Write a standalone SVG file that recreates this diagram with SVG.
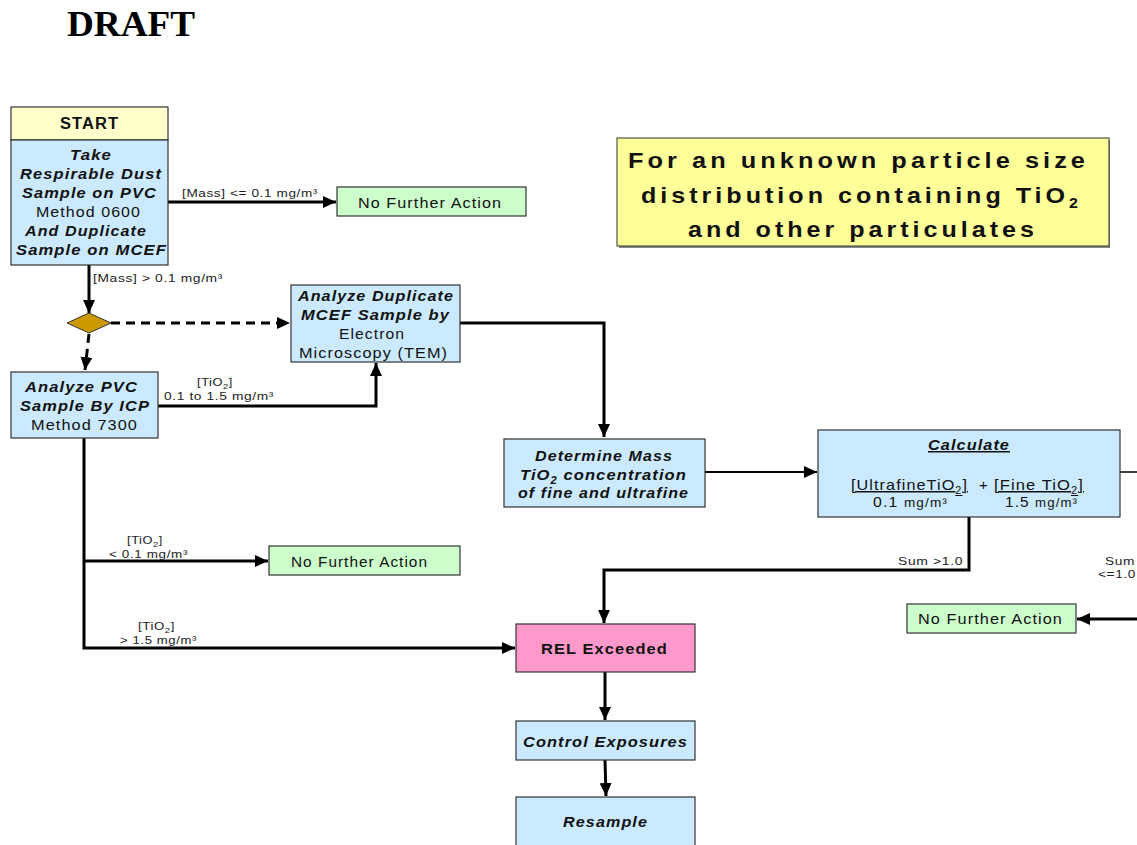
<svg xmlns="http://www.w3.org/2000/svg" width="1137" height="845" viewBox="0 0 1137 845">
<style>
.box{stroke:#333;stroke-width:1.2}
.blue{fill:#cceaff}
.green{fill:#ccffcc}
.t{font-family:"Liberation Sans",Arial,sans-serif;fill:#111;letter-spacing:1px}
.bi{font-weight:bold;font-style:italic;font-size:15px}
.r{font-size:15px}
.lbl{font-family:"Liberation Sans",Arial,sans-serif;font-size:11px;fill:#222;letter-spacing:0.5px}
.c{stroke:#000;stroke-width:3;fill:none}
.d{stroke:#000;stroke-width:3;fill:none;stroke-dasharray:9,6}
.ttl{font-family:"Liberation Sans",Arial,sans-serif;fill:#111;font-weight:bold;font-size:22px;letter-spacing:3.5px}
</style>
<defs>
<marker id="ah" markerUnits="userSpaceOnUse" markerWidth="14" markerHeight="12" refX="13" refY="6" orient="auto">
<path d="M0,0 L13,6 L0,12 z" fill="#000"/>
</marker>
</defs>
<rect width="1137" height="845" fill="#fff"/>
<text x="67" y="36" font-family="'Liberation Serif','Times New Roman',serif" font-weight="bold" font-size="36" textLength="128" lengthAdjust="spacingAndGlyphs">DRAFT</text>

<g id="connectors">
<path class="c" d="M168,202 H336" marker-end="url(#ah)"/>
<path class="c" d="M89,265 V313" marker-end="url(#ah)"/>
<path class="d" d="M111,323 H290" marker-end="url(#ah)"/>
<path class="d" d="M89,334 L85,370" marker-end="url(#ah)"/>
<path class="c" d="M158,406 H376 V363" marker-end="url(#ah)"/>
<path class="c" d="M460,323 H604 V437" marker-end="url(#ah)"/>
<path class="c" style="stroke-width:2" d="M705,472 H817" marker-end="url(#ah)"/>
<path class="c" style="stroke-width:1.5" d="M1120,472 H1137"/>
<path class="c" d="M969,517 V570 H604 V623" marker-end="url(#ah)"/>
<path class="c" d="M1137,619 H1077" marker-end="url(#ah)"/>
<path class="c" d="M84,438 V648 H515" marker-end="url(#ah)"/>
<path class="c" d="M84,561 H268" marker-end="url(#ah)"/>
<path class="c" d="M605,672 V720" marker-end="url(#ah)"/>
<path class="c" d="M605,760 L606,796" marker-end="url(#ah)"/>
<text class="lbl" x="182" y="197" textLength="136" lengthAdjust="spacingAndGlyphs">[Mass] &lt;= 0.1 mg/m³</text>
<text class="lbl" x="93" y="282" textLength="130" lengthAdjust="spacingAndGlyphs">[Mass] &gt; 0.1 mg/m³</text>
<text class="lbl" x="197" y="386" textLength="36" lengthAdjust="spacingAndGlyphs">[TiO<tspan font-size="8" dy="3">2</tspan><tspan dy="-3">]</tspan></text>
<text class="lbl" x="164" y="400" textLength="110" lengthAdjust="spacingAndGlyphs">0.1 to 1.5 mg/m³</text>
<text class="lbl" x="127" y="544" textLength="36" lengthAdjust="spacingAndGlyphs">[TiO<tspan font-size="8" dy="3">2</tspan><tspan dy="-3">]</tspan></text>
<text class="lbl" x="109" y="558" textLength="79" lengthAdjust="spacingAndGlyphs">&lt; 0.1 mg/m³</text>
<text class="lbl" x="138" y="630" textLength="37" lengthAdjust="spacingAndGlyphs">[TiO<tspan font-size="8" dy="3">2</tspan><tspan dy="-3">]</tspan></text>
<text class="lbl" x="120" y="644" textLength="77" lengthAdjust="spacingAndGlyphs">&gt; 1.5 mg/m³</text>
<text class="lbl" x="898" y="565" textLength="65" lengthAdjust="spacingAndGlyphs">Sum &gt;1.0</text>
<text class="lbl" x="1105" y="565" textLength="30" lengthAdjust="spacingAndGlyphs">Sum</text>
<text class="lbl" x="1098" y="578" textLength="38" lengthAdjust="spacingAndGlyphs">&lt;=1.0</text>
</g>

<g id="start">
<rect class="box" x="11" y="107" width="157" height="33" fill="#ffffcc"/>
<rect class="box blue" x="11" y="140" width="157" height="125"/>
<text class="t" x="60" y="129" font-weight="bold" font-size="16" textLength="59" lengthAdjust="spacingAndGlyphs">START</text>
<text class="t bi" x="70" y="160" textLength="42" lengthAdjust="spacingAndGlyphs">Take</text>
<text class="t bi" x="20" y="179" textLength="142" lengthAdjust="spacingAndGlyphs">Respirable Dust</text>
<text class="t bi" x="22" y="198" textLength="135" lengthAdjust="spacingAndGlyphs">Sample on PVC</text>
<text class="t r" x="36" y="217" textLength="105" lengthAdjust="spacingAndGlyphs">Method 0600</text>
<text class="t bi" x="25" y="236" textLength="122" lengthAdjust="spacingAndGlyphs">And Duplicate</text>
<text class="t bi" x="16" y="255" textLength="151" lengthAdjust="spacingAndGlyphs">Sample on MCEF</text>
</g>

<g id="nfa1">
<rect class="box green" x="337" y="187" width="189" height="29"/>
<text class="t r" x="358" y="208" textLength="144" lengthAdjust="spacingAndGlyphs">No Further Action</text>
</g>

<g id="decision">
<polygon points="89,313 111,323 89,333 67,323" fill="#cc9900" stroke="#333" stroke-width="1"/>
</g>

<g id="analyze-dup">
<rect class="box blue" x="291" y="285" width="169" height="77"/>
<text class="t bi" x="298" y="301" textLength="156" lengthAdjust="spacingAndGlyphs">Analyze Duplicate</text>
<text class="t bi" x="301" y="320" textLength="149" lengthAdjust="spacingAndGlyphs">MCEF Sample by</text>
<text class="t r" x="339" y="339" textLength="66" lengthAdjust="spacingAndGlyphs">Electron</text>
<text class="t r" x="299" y="358" textLength="149" lengthAdjust="spacingAndGlyphs">Microscopy (TEM)</text>
</g>

<g id="analyze-pvc">
<rect class="box blue" x="11" y="372" width="147" height="66"/>
<text class="t bi" x="25" y="392" textLength="113" lengthAdjust="spacingAndGlyphs">Analyze PVC</text>
<text class="t bi" x="20" y="411" textLength="130" lengthAdjust="spacingAndGlyphs">Sample By ICP</text>
<text class="t r" x="31" y="430" textLength="107" lengthAdjust="spacingAndGlyphs">Method 7300</text>
</g>

<g id="determine">
<rect class="box blue" x="504" y="439" width="201" height="68"/>
<text class="t bi" x="535" y="461" textLength="138" lengthAdjust="spacingAndGlyphs">Determine Mass</text>
<text class="t bi" x="520" y="480" textLength="167" lengthAdjust="spacingAndGlyphs">TiO<tspan font-size="10" dy="4">2</tspan><tspan dy="-4"> concentration</tspan></text>
<text class="t bi" x="518" y="498" textLength="171" lengthAdjust="spacingAndGlyphs">of fine and ultrafine</text>
</g>

<g id="calculate">
<rect class="box blue" x="818" y="430" width="302" height="87"/>
<text class="t bi" x="928" y="450" text-decoration="underline" textLength="82" lengthAdjust="spacingAndGlyphs">Calculate</text>
<text class="t" font-size="15" x="851" y="490" text-decoration="underline" textLength="117" lengthAdjust="spacingAndGlyphs">[UltrafineTiO<tspan font-size="10" dy="4">2</tspan><tspan dy="-4">]</tspan></text>
<text class="t" font-size="15" x="979" y="490">+</text>
<text class="t" font-size="15" x="994" y="490" text-decoration="underline" textLength="90" lengthAdjust="spacingAndGlyphs">[Fine TiO<tspan font-size="10" dy="4">2</tspan><tspan dy="-4">]</tspan></text>
<text class="t" font-size="14" x="873" y="507" textLength="75" lengthAdjust="spacingAndGlyphs">0.1 <tspan font-size="12">mg/m³</tspan></text>
<text class="t" font-size="14" x="1005" y="507" textLength="73" lengthAdjust="spacingAndGlyphs">1.5 <tspan font-size="12">mg/m³</tspan></text>
</g>

<g id="title">
<rect x="619" y="140" width="491" height="108" fill="#888"/>
<rect x="617" y="138" width="492" height="108" fill="#ffff99" stroke="#333" stroke-width="1"/>
<text class="ttl" x="628" y="168" textLength="461" lengthAdjust="spacingAndGlyphs">For an unknown particle size</text>
<text class="ttl" x="641" y="203" textLength="441" lengthAdjust="spacingAndGlyphs">distribution containing TiO<tspan font-size="14" dy="5">2</tspan></text>
<text class="ttl" x="688" y="237" textLength="350" lengthAdjust="spacingAndGlyphs">and other particulates</text>
</g>

<g id="nfa2">
<rect class="box green" x="269" y="546" width="191" height="29"/>
<text class="t r" x="291" y="567" textLength="137" lengthAdjust="spacingAndGlyphs">No Further Action</text>
</g>

<g id="nfa3">
<rect class="box green" x="907" y="604" width="169" height="29"/>
<text class="t r" x="918" y="624" textLength="145" lengthAdjust="spacingAndGlyphs">No Further Action</text>
</g>

<g id="rel">
<rect class="box" x="516" y="624" width="179" height="48" fill="#ff99cc"/>
<text class="t" x="541" y="654" font-weight="bold" font-size="15" textLength="127" lengthAdjust="spacingAndGlyphs">REL Exceeded</text>
</g>

<g id="control">
<rect class="box blue" x="516" y="721" width="179" height="39"/>
<text class="t bi" x="523" y="747" textLength="165" lengthAdjust="spacingAndGlyphs">Control Exposures</text>
</g>

<g id="resample">
<rect class="box blue" x="516" y="797" width="179" height="60"/>
<text class="t bi" x="563" y="827" textLength="85" lengthAdjust="spacingAndGlyphs">Resample</text>
</g>
</svg>
